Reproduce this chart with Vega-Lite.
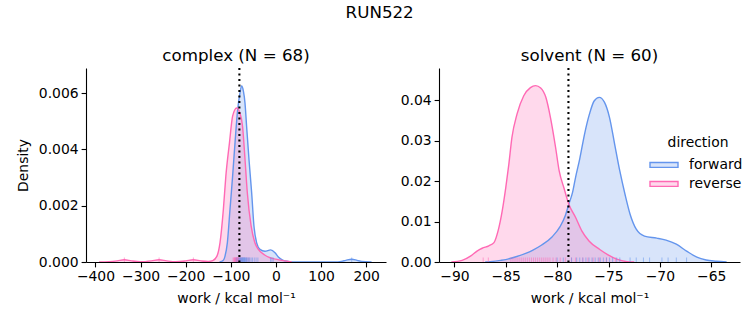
{
  "$schema": "https://vega.github.io/schema/vega-lite/v6.json",
  "padding": {"left": 16, "top": 4, "right": 8, "bottom": 2},
  "title": {"text": "RUN522", "anchor": "middle", "fontSize": 16.7, "fontWeight": "normal", "font": "DejaVu Sans", "color": "black", "offset": 27},
  "config": {
    "font": "DejaVu Sans",
    "view": {"stroke": null},
    "axis": {"domainColor": "black", "tickColor": "black", "labelColor": "black", "titleColor": "black", "labelFontSize": 13.9, "titleFontSize": 13.9, "titleFontWeight": "normal", "tickSize": 4.9, "tickWidth": 1.1, "domainWidth": 1.1, "labelPadding": 3, "titlePadding": 8, "grid": false, "labelFont": "DejaVu Sans", "titleFont": "DejaVu Sans", "labelFlush": false, "labelOverlap": false},
    "title": {"fontSize": 16.7, "fontWeight": "normal", "font": "DejaVu Sans", "color": "black", "offset": 2},
    "legend": {"labelFontSize": 13.9, "titleFontSize": 13.9, "titleFontWeight": "normal", "labelColor": "black", "titleColor": "black", "labelFont": "DejaVu Sans", "titleFont": "DejaVu Sans", "symbolType": "M-1.4,-0.245H1.4V0.245H-1.4Z", "symbolSize": 400, "labelOffset": 14, "titleAnchor": "middle", "rowPadding": 1, "titlePadding": 4}
  },
  "datasets": {
    "complex_kde": [
      {"direction": "forward", "work": -125, "density": 0},
      {"direction": "forward", "work": -116.5, "density": 0.00006},
      {"direction": "forward", "work": -113, "density": 0.0002},
      {"direction": "forward", "work": -107.7, "density": 0.00068},
      {"direction": "forward", "work": -101.8, "density": 0.00187},
      {"direction": "forward", "work": -96, "density": 0.00305},
      {"direction": "forward", "work": -90.7, "density": 0.00423},
      {"direction": "forward", "work": -84.8, "density": 0.00541},
      {"direction": "forward", "work": -79.7, "density": 0.006},
      {"direction": "forward", "work": -76, "density": 0.00625},
      {"direction": "forward", "work": -72, "density": 0.00606},
      {"direction": "forward", "work": -68.6, "density": 0.00565},
      {"direction": "forward", "work": -65, "density": 0.00482},
      {"direction": "forward", "work": -59.7, "density": 0.00364},
      {"direction": "forward", "work": -53.8, "density": 0.00246},
      {"direction": "forward", "work": -48.7, "density": 0.00128},
      {"direction": "forward", "work": -42.7, "density": 0.00068},
      {"direction": "forward", "work": -35.4, "density": 0.00045},
      {"direction": "forward", "work": -24.3, "density": 0.00038},
      {"direction": "forward", "work": -11.7, "density": 0.00043},
      {"direction": "forward", "work": -2, "density": 0.00033},
      {"direction": "forward", "work": 5.3, "density": 0.00018},
      {"direction": "forward", "work": 15, "density": 0.00007},
      {"direction": "forward", "work": 27, "density": 0.00002},
      {"direction": "forward", "work": 40, "density": 0},
      {"direction": "forward", "work": 130, "density": 0},
      {"direction": "forward", "work": 145, "density": 0.00002},
      {"direction": "forward", "work": 155, "density": 0.00006},
      {"direction": "forward", "work": 168, "density": 0.0001},
      {"direction": "forward", "work": 180, "density": 0.00006},
      {"direction": "forward", "work": 190, "density": 0.00002},
      {"direction": "forward", "work": 212, "density": 0},
      {"direction": "reverse", "work": -392, "density": 0},
      {"direction": "reverse", "work": -370, "density": 0.00001},
      {"direction": "reverse", "work": -352, "density": 0.00004},
      {"direction": "reverse", "work": -336, "density": 0.00008},
      {"direction": "reverse", "work": -320, "density": 0.00004},
      {"direction": "reverse", "work": -300, "density": 0.00001},
      {"direction": "reverse", "work": -276, "density": 0.00004},
      {"direction": "reverse", "work": -259, "density": 0.00008},
      {"direction": "reverse", "work": -242, "density": 0.00004},
      {"direction": "reverse", "work": -222, "density": 0.00001},
      {"direction": "reverse", "work": -200, "density": 0.00004},
      {"direction": "reverse", "work": -183, "density": 0.00008},
      {"direction": "reverse", "work": -166, "density": 0.00004},
      {"direction": "reverse", "work": -150, "density": 0.00002},
      {"direction": "reverse", "work": -140, "density": 0.00005},
      {"direction": "reverse", "work": -131, "density": 0.0002},
      {"direction": "reverse", "work": -124, "density": 0.00068},
      {"direction": "reverse", "work": -116.5, "density": 0.00187},
      {"direction": "reverse", "work": -111, "density": 0.00305},
      {"direction": "reverse", "work": -103, "density": 0.00423},
      {"direction": "reverse", "work": -96, "density": 0.00518},
      {"direction": "reverse", "work": -87, "density": 0.00547},
      {"direction": "reverse", "work": -80, "density": 0.0053},
      {"direction": "reverse", "work": -74, "density": 0.00482},
      {"direction": "reverse", "work": -68.5, "density": 0.00364},
      {"direction": "reverse", "work": -63.4, "density": 0.00246},
      {"direction": "reverse", "work": -55, "density": 0.00128},
      {"direction": "reverse", "work": -47, "density": 0.0007},
      {"direction": "reverse", "work": -39, "density": 0.00045},
      {"direction": "reverse", "work": -25, "density": 0.00025},
      {"direction": "reverse", "work": -13, "density": 0.00015},
      {"direction": "reverse", "work": 0, "density": 0.0001},
      {"direction": "reverse", "work": 16, "density": 0.00005},
      {"direction": "reverse", "work": 35, "density": 0}
    ],
    "solvent_kde": [
      {"direction": "forward", "work": -87, "density": 0},
      {"direction": "forward", "work": -86.5, "density": 0.0001},
      {"direction": "forward", "work": -85.5, "density": 0.0004},
      {"direction": "forward", "work": -85, "density": 0.0006},
      {"direction": "forward", "work": -84, "density": 0.0013},
      {"direction": "forward", "work": -83, "density": 0.0022},
      {"direction": "forward", "work": -82.4, "density": 0.0029},
      {"direction": "forward", "work": -81.5, "density": 0.0042},
      {"direction": "forward", "work": -80.5, "density": 0.0062},
      {"direction": "forward", "work": -79.7, "density": 0.0088},
      {"direction": "forward", "work": -79.2, "density": 0.0115},
      {"direction": "forward", "work": -78.86, "density": 0.0143},
      {"direction": "forward", "work": -78.5, "density": 0.0172},
      {"direction": "forward", "work": -78.2, "density": 0.021},
      {"direction": "forward", "work": -77.8, "density": 0.0255},
      {"direction": "forward", "work": -77.3, "density": 0.032},
      {"direction": "forward", "work": -76.85, "density": 0.0366},
      {"direction": "forward", "work": -76.4, "density": 0.0398},
      {"direction": "forward", "work": -75.9, "density": 0.0407},
      {"direction": "forward", "work": -75.4, "density": 0.0395},
      {"direction": "forward", "work": -74.9, "density": 0.0357},
      {"direction": "forward", "work": -74.4, "density": 0.0291},
      {"direction": "forward", "work": -73.9, "density": 0.0225},
      {"direction": "forward", "work": -73.4, "density": 0.0168},
      {"direction": "forward", "work": -72.9, "density": 0.0118},
      {"direction": "forward", "work": -72.3, "density": 0.0081},
      {"direction": "forward", "work": -71.5, "density": 0.0064},
      {"direction": "forward", "work": -70.3, "density": 0.0059},
      {"direction": "forward", "work": -69.4, "density": 0.0054},
      {"direction": "forward", "work": -68.4, "density": 0.0044},
      {"direction": "forward", "work": -67.4, "density": 0.0027},
      {"direction": "forward", "work": -66.4, "density": 0.0012},
      {"direction": "forward", "work": -65.5, "density": 0.0005},
      {"direction": "forward", "work": -64.5, "density": 0.0002},
      {"direction": "forward", "work": -63.5, "density": 0},
      {"direction": "reverse", "work": -90.3, "density": 0},
      {"direction": "reverse", "work": -89.25, "density": 0.0004},
      {"direction": "reverse", "work": -88.4, "density": 0.0015},
      {"direction": "reverse", "work": -87.8, "density": 0.0027},
      {"direction": "reverse", "work": -87.3, "density": 0.0034},
      {"direction": "reverse", "work": -86.65, "density": 0.004},
      {"direction": "reverse", "work": -86.15, "density": 0.0048},
      {"direction": "reverse", "work": -85.75, "density": 0.0077},
      {"direction": "reverse", "work": -85.35, "density": 0.0126},
      {"direction": "reverse", "work": -85.0, "density": 0.0184},
      {"direction": "reverse", "work": -84.7, "density": 0.0242},
      {"direction": "reverse", "work": -84.4, "density": 0.0308},
      {"direction": "reverse", "work": -83.9, "density": 0.0366},
      {"direction": "reverse", "work": -83.25, "density": 0.0411},
      {"direction": "reverse", "work": -82.6, "density": 0.0431},
      {"direction": "reverse", "work": -82.1, "density": 0.0436},
      {"direction": "reverse", "work": -81.6, "density": 0.043},
      {"direction": "reverse", "work": -81.1, "density": 0.0407},
      {"direction": "reverse", "work": -80.65, "density": 0.0357},
      {"direction": "reverse", "work": -80.15, "density": 0.0283},
      {"direction": "reverse", "work": -79.8, "density": 0.0225},
      {"direction": "reverse", "work": -79.35, "density": 0.0184},
      {"direction": "reverse", "work": -78.86, "density": 0.0143},
      {"direction": "reverse", "work": -78.2, "density": 0.011},
      {"direction": "reverse", "work": -77.6, "density": 0.0077},
      {"direction": "reverse", "work": -76.9, "density": 0.0052},
      {"direction": "reverse", "work": -75.85, "density": 0.0031},
      {"direction": "reverse", "work": -75.0, "density": 0.0017},
      {"direction": "reverse", "work": -74.2, "density": 0.0007},
      {"direction": "reverse", "work": -73.2, "density": 0.0001},
      {"direction": "reverse", "work": -72.5, "density": 0}
    ],
    "complex_rug": [
      {"direction": "reverse", "work": -336}, {"direction": "reverse", "work": -259}, {"direction": "reverse", "work": -183},
      {"direction": "reverse", "work": -95}, {"direction": "reverse", "work": -93}, {"direction": "reverse", "work": -92},
      {"direction": "reverse", "work": -91}, {"direction": "reverse", "work": -90}, {"direction": "reverse", "work": -89},
      {"direction": "reverse", "work": -88.5}, {"direction": "reverse", "work": -88}, {"direction": "reverse", "work": -87},
      {"direction": "reverse", "work": -86.5}, {"direction": "reverse", "work": -86}, {"direction": "reverse", "work": -85},
      {"direction": "reverse", "work": -84.5}, {"direction": "reverse", "work": -84}, {"direction": "reverse", "work": -83},
      {"direction": "reverse", "work": -82.5}, {"direction": "reverse", "work": -82}, {"direction": "reverse", "work": -81},
      {"direction": "reverse", "work": -80}, {"direction": "reverse", "work": -79}, {"direction": "reverse", "work": -78},
      {"direction": "reverse", "work": -76}, {"direction": "reverse", "work": -74}, {"direction": "reverse", "work": -70},
      {"direction": "reverse", "work": -65}, {"direction": "reverse", "work": -60},
      {"direction": "forward", "work": -88}, {"direction": "forward", "work": -84}, {"direction": "forward", "work": -82},
      {"direction": "forward", "work": -80}, {"direction": "forward", "work": -79}, {"direction": "forward", "work": -78},
      {"direction": "forward", "work": -77}, {"direction": "forward", "work": -76}, {"direction": "forward", "work": -75},
      {"direction": "forward", "work": -74}, {"direction": "forward", "work": -73}, {"direction": "forward", "work": -72},
      {"direction": "forward", "work": -71}, {"direction": "forward", "work": -70}, {"direction": "forward", "work": -69},
      {"direction": "forward", "work": -68}, {"direction": "forward", "work": -67}, {"direction": "forward", "work": -65},
      {"direction": "forward", "work": -64}, {"direction": "forward", "work": -62}, {"direction": "forward", "work": -60},
      {"direction": "forward", "work": -58}, {"direction": "forward", "work": -55}, {"direction": "forward", "work": -52},
      {"direction": "forward", "work": -48}, {"direction": "forward", "work": -44}, {"direction": "forward", "work": -40},
      {"direction": "forward", "work": -12}, {"direction": "forward", "work": -9}, {"direction": "forward", "work": -6},
      {"direction": "forward", "work": 168}
    ],
    "solvent_rug": [
      {"direction": "reverse", "work": -87.2}, {"direction": "reverse", "work": -86.7}, {"direction": "reverse", "work": -84.5},
      {"direction": "reverse", "work": -84.3}, {"direction": "reverse", "work": -84.1}, {"direction": "reverse", "work": -83.9},
      {"direction": "reverse", "work": -83.7}, {"direction": "reverse", "work": -83.5}, {"direction": "reverse", "work": -83.3},
      {"direction": "reverse", "work": -83.1}, {"direction": "reverse", "work": -82.9}, {"direction": "reverse", "work": -82.7},
      {"direction": "reverse", "work": -82.5}, {"direction": "reverse", "work": -82.3}, {"direction": "reverse", "work": -82.1},
      {"direction": "reverse", "work": -81.9}, {"direction": "reverse", "work": -81.7}, {"direction": "reverse", "work": -81.5},
      {"direction": "reverse", "work": -81.3}, {"direction": "reverse", "work": -81.1}, {"direction": "reverse", "work": -80.9},
      {"direction": "reverse", "work": -80.7}, {"direction": "reverse", "work": -80.4}, {"direction": "reverse", "work": -80.1},
      {"direction": "reverse", "work": -79.7}, {"direction": "reverse", "work": -79.2}, {"direction": "reverse", "work": -78.6},
      {"direction": "reverse", "work": -78.2}, {"direction": "reverse", "work": -77.5}, {"direction": "reverse", "work": -77.0},
      {"direction": "reverse", "work": -76.5}, {"direction": "reverse", "work": -75.9}, {"direction": "reverse", "work": -75.2},
      {"direction": "reverse", "work": -74.3},
      {"direction": "forward", "work": -80.0}, {"direction": "forward", "work": -79.4}, {"direction": "forward", "work": -78.6},
      {"direction": "forward", "work": -78.1}, {"direction": "forward", "work": -77.8}, {"direction": "forward", "work": -77.5},
      {"direction": "forward", "work": -77.2}, {"direction": "forward", "work": -76.9}, {"direction": "forward", "work": -76.6},
      {"direction": "forward", "work": -76.3}, {"direction": "forward", "work": -76.0}, {"direction": "forward", "work": -75.8},
      {"direction": "forward", "work": -75.5}, {"direction": "forward", "work": -75.2}, {"direction": "forward", "work": -74.9},
      {"direction": "forward", "work": -74.6}, {"direction": "forward", "work": -74.2}, {"direction": "forward", "work": -73.9},
      {"direction": "forward", "work": -72.9}, {"direction": "forward", "work": -72.3}, {"direction": "forward", "work": -71.6},
      {"direction": "forward", "work": -71.0}, {"direction": "forward", "work": -69.8}, {"direction": "forward", "work": -69.2},
      {"direction": "forward", "work": -68.4}, {"direction": "forward", "work": -67.4}
    ]
  },
  "spacing": 14,
  "resolve": {"legend": {"color": "independent"}},
  "hconcat": [
    {
      "width": 300,
      "height": 194,
      "title": "complex (N = 68)",
      "layer": [
        {
          "data": {"name": "complex_kde"},
          "mark": {"type": "area", "fillOpacity": 0.25, "interpolate": "monotone", "clip": true},
          "encoding": {
            "x": {"field": "work", "type": "quantitative", "scale": {"domain": [-421, 244], "nice": false, "zero": false}, "axis": {"title": "work / kcal mol⁻¹", "values": [-400, -300, -200, -100, 0, 100, 200], "format": "d"}},
            "y": {"field": "density", "type": "quantitative", "stack": null, "scale": {"domain": [0, 0.00689], "nice": false}, "axis": {"title": "Density", "values": [0, 0.002, 0.004, 0.006], "format": ".3f"}},
            "color": {"field": "direction", "type": "nominal", "scale": {"domain": ["forward", "reverse"], "range": ["#6495ED", "#FF69B4"]}, "legend": null}
          }
        },
        {
          "data": {"name": "complex_kde"},
          "mark": {"type": "line", "strokeWidth": 1.4, "interpolate": "monotone", "clip": true},
          "encoding": {
            "x": {"field": "work", "type": "quantitative"},
            "y": {"field": "density", "type": "quantitative", "stack": null},
            "color": {"field": "direction", "type": "nominal", "legend": null}
          }
        },
        {
          "data": {"name": "complex_rug"},
          "mark": {"type": "tick", "orient": "vertical", "size": 4.6, "thickness": 1, "opacity": 0.55},
          "encoding": {
            "x": {"field": "work", "type": "quantitative"},
            "y": {"datum": 0.000082, "type": "quantitative"},
            "color": {"field": "direction", "type": "nominal", "legend": null}
          }
        },
        {
          "data": {"values": [{"work": -81}]},
          "mark": {"type": "rule", "color": "black", "strokeWidth": 2.1, "strokeDash": [2.1, 3.4]},
          "encoding": {"x": {"field": "work", "type": "quantitative"}}
        }
      ]
    },
    {
      "width": 301,
      "height": 194,
      "title": "solvent (N = 60)",
      "layer": [
        {
          "data": {"name": "solvent_kde"},
          "mark": {"type": "area", "fillOpacity": 0.25, "interpolate": "monotone", "clip": true},
          "encoding": {
            "x": {"field": "work", "type": "quantitative", "scale": {"domain": [-91.5, -62.2], "nice": false, "zero": false}, "axis": {"title": "work / kcal mol⁻¹", "values": [-90, -85, -80, -75, -70, -65], "format": "d"}},
            "y": {"field": "density", "type": "quantitative", "stack": null, "scale": {"domain": [0, 0.04795], "nice": false}, "axis": {"title": null, "values": [0, 0.01, 0.02, 0.03, 0.04], "format": ".2f"}},
            "color": {"field": "direction", "type": "nominal", "scale": {"domain": ["forward", "reverse"], "range": ["#6495ED", "#FF69B4"]},
              "legend": {"title": "direction", "orient": "none", "legendX": 214, "legendY": 68,
                "encode": {"symbols": {"update": {"fillOpacity": {"value": 0.25}, "stroke": {"scale": "color", "field": "value"}, "strokeWidth": {"value": 1.4}, "opacity": {"value": 1}}}}}}
          }
        },
        {
          "data": {"name": "solvent_kde"},
          "mark": {"type": "line", "strokeWidth": 1.4, "interpolate": "monotone", "clip": true},
          "encoding": {
            "x": {"field": "work", "type": "quantitative"},
            "y": {"field": "density", "type": "quantitative", "stack": null},
            "color": {"field": "direction", "type": "nominal", "legend": null}
          }
        },
        {
          "data": {"name": "solvent_rug"},
          "mark": {"type": "tick", "orient": "vertical", "size": 4.6, "thickness": 1, "opacity": 0.55},
          "encoding": {
            "x": {"field": "work", "type": "quantitative"},
            "y": {"datum": 0.00057, "type": "quantitative"},
            "color": {"field": "direction", "type": "nominal", "legend": null}
          }
        },
        {
          "data": {"values": [{"work": -78.9}]},
          "mark": {"type": "rule", "color": "black", "strokeWidth": 2.1, "strokeDash": [2.1, 3.4]},
          "encoding": {"x": {"field": "work", "type": "quantitative"}}
        }
      ]
    }
  ]
}
